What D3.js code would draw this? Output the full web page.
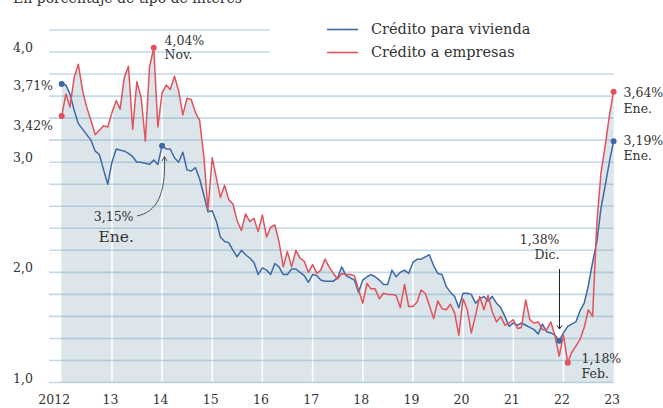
<!DOCTYPE html>
<html>
<head>
<meta charset="utf-8">
<script src="https://cdn.jsdelivr.net/npm/d3@7"></script>
<style>
  body { margin: 0; background: #fff; }
  svg { display: block; font-family: "DejaVu Serif", serif; }
</style>
</head>
<body>
<div id="chart"></div>
<script>
// Tipos de interés medios, enero 2012 - enero 2023 (mensual)
const yearLabels = ["2012", "13", "14", "15", "16", "17", "18", "19", "20", "21", "22", "23"];
const gridValues = [1.0, 1.2, 1.4, 1.6, 1.8, 2.0, 2.2, 2.4, 2.6, 2.8, 3.0, 3.2, 3.4, 3.6, 3.8, 4.0, 4.2];
const axisValues = [1, 2, 3, 4];

const vivienda = [
  3.71, 3.70, 3.62, 3.47, 3.35, 3.30, 3.25, 3.20, 3.10, 3.07, 2.93, 2.80,
  3.00, 3.12, 3.11, 3.10, 3.08, 3.05, 3.00, 3.00, 2.99, 2.98, 3.02, 2.98,
  3.15, 3.12, 3.12, 3.04, 3.00, 3.09, 2.93, 2.92, 2.95, 2.85, 2.70, 2.55,
  2.56, 2.46, 2.32, 2.28, 2.27, 2.20, 2.14, 2.20, 2.16, 2.13, 2.09, 1.98,
  2.04, 2.02, 1.98, 2.08, 2.05, 1.98, 1.98, 2.03, 2.03, 2.00, 1.97, 1.91,
  1.98, 1.97, 1.93, 1.92, 1.92, 1.92, 1.95, 2.05, 1.97, 1.95, 1.93, 1.82,
  1.93, 1.96, 1.98, 1.96, 1.93, 1.89, 1.89, 2.02, 1.96, 2.00, 2.02, 1.99,
  2.09, 2.12, 2.12, 2.14, 2.16, 2.06, 1.99, 1.98, 1.87, 1.82, 1.78, 1.68,
  1.81, 1.81, 1.80, 1.72, 1.76, 1.78, 1.74, 1.78, 1.72, 1.68, 1.60, 1.51,
  1.54, 1.52, 1.54, 1.52, 1.50, 1.48, 1.44, 1.53, 1.46, 1.45, 1.43, 1.38,
  1.45, 1.51, 1.53, 1.55, 1.65, 1.72, 1.88, 2.09, 2.28, 2.58, 2.79, 3.00,
  3.19
];

const empresas = [
  3.42, 3.62, 3.50, 3.77, 3.89, 3.65, 3.50, 3.38, 3.25, 3.29, 3.33, 3.32,
  3.45, 3.56, 3.48, 3.77, 3.87, 3.30, 3.73, 3.59, 3.19, 3.86, 4.04, 3.32,
  3.63, 3.70, 3.66, 3.78, 3.65, 3.43, 3.58, 3.57, 3.45, 3.38, 3.05, 2.57,
  3.04, 2.85, 2.68, 2.79, 2.66, 2.62, 2.47, 2.38, 2.53, 2.46, 2.49, 2.37,
  2.52, 2.32, 2.41, 2.43, 2.28, 2.05, 2.19, 2.05, 2.20, 2.13, 2.10, 2.00,
  2.07, 1.99, 2.02, 2.12, 2.05, 1.99, 1.94, 1.99, 1.98, 1.98, 1.97, 1.84,
  1.72, 1.90, 1.85, 1.85, 1.76, 1.81, 1.80, 1.80, 1.79, 1.68, 1.89, 1.69,
  1.69, 1.73, 1.84, 1.81, 1.70, 1.58, 1.74, 1.67, 1.66, 1.71, 1.63, 1.43,
  1.76, 1.66, 1.45, 1.61, 1.78, 1.66, 1.79, 1.64, 1.55, 1.60, 1.52, 1.54,
  1.57, 1.49, 1.50, 1.75, 1.57, 1.54, 1.55, 1.48, 1.48, 1.55, 1.42, 1.24,
  1.43, 1.18, 1.27, 1.33, 1.39, 1.50, 1.66, 1.60, 2.45, 2.90, 3.15, 3.42,
  3.64
];

// Puntos destacados: [serie, índice de mes]
const highlights = [
  ["vivienda", 0], ["empresas", 0], ["empresas", 22], ["vivienda", 24],
  ["vivienda", 119], ["empresas", 121], ["vivienda", 132], ["empresas", 132]
];

const width = 663, height = 408;
const blue = "#3f69a6", red = "#e2525c", ink = "#333";

const start = new Date(2012, 0, 1);
const monthDate = i => d3.timeMonth.offset(start, i);

const x = d3.scaleTime()
  .domain([start, new Date(2023, 0, 1)])
  .range([61.7, 613.6]);
const y = d3.scaleLinear()
  .domain([1, 4.2])
  .range([382.5, 30]);

const svg = d3.select("#chart").append("svg")
  .attr("width", width)
  .attr("height", height);

// Subtitle (cut at the top in the original)
svg.append("text")
  .attr("x", 13).attr("y", 2.5)
  .attr("font-size", 14).attr("fill", ink)
  .text("En porcentaje de tipo de interés");

// Shaded areas under both series
const area = d3.area()
  .x((d, i) => x(monthDate(i)))
  .y0(y(1))
  .y1(d => y(d));

[vivienda, empresas].forEach(s => {
  svg.append("path")
    .datum(s)
    .attr("d", area)
    .attr("fill", "#dbe5ea");
});

// White vertical year lines over the area
svg.append("g")
  .selectAll("line")
  .data(yearLabels.slice(1, -1))
  .enter().append("line")
  .attr("x1", (d, i) => x(new Date(2013 + i, 0, 1)))
  .attr("x2", (d, i) => x(new Date(2013 + i, 0, 1)))
  .attr("y1", y(1))
  .attr("y2", y(4.2))
  .attr("stroke", "#fff")
  .attr("stroke-width", 1.6);

// Horizontal gridlines
svg.append("g")
  .selectAll("line")
  .data(gridValues)
  .enter().append("line")
  .attr("x1", 49)
  .attr("x2", d => d >= 3.99 ? 270 : 613.6)
  .attr("y1", d => y(d))
  .attr("y2", d => y(d))
  .attr("stroke", "rgba(115,165,192,0.42)")
  .attr("stroke-width", 1.6);

// Y axis labels
svg.append("g")
  .selectAll("text")
  .data(axisValues)
  .enter().append("text")
  .attr("x", 13)
  .attr("y", d => y(d))
  .attr("font-size", 12.5)
  .attr("fill", ink)
  .text(d => d.toFixed(1).replace(".", ","));

// X axis
const xAxis = d3.axisBottom(x)
  .tickValues(yearLabels.map((d, i) => new Date(2012 + i, 0, 1)))
  .tickFormat((d, i) => yearLabels[i])
  .tickSize(0)
  .tickPadding(0);

const gx = svg.append("g")
  .attr("transform", "translate(-2,404)")
  .call(xAxis);
gx.select(".domain").remove();
gx.selectAll("text")
  .attr("dy", 0)
  .attr("font-family", "DejaVu Serif, serif")
  .attr("font-size", 12.5)
  .attr("fill", ink);
gx.selectAll(".tick").filter((d, i) => i === 0)
  .select("text").attr("dx", -6);

// Lines
const line = d3.line()
  .x((d, i) => x(monthDate(i)))
  .y(d => y(d));

svg.append("path").datum(vivienda)
  .attr("d", line).attr("fill", "none")
  .attr("stroke", blue).attr("stroke-width", 1.5)
  .attr("stroke-linejoin", "round");
svg.append("path").datum(empresas)
  .attr("d", line).attr("fill", "none")
  .attr("stroke", red).attr("stroke-width", 1.5)
  .attr("stroke-linejoin", "round");

// Highlight dots
const series = { vivienda, empresas };
svg.append("g")
  .selectAll("circle")
  .data(highlights)
  .enter().append("circle")
  .attr("cx", d => x(monthDate(d[1])))
  .attr("cy", d => y(series[d[0]][d[1]]))
  .attr("r", 3)
  .attr("fill", d => d[0] === "vivienda" ? blue : red);

// Legend
const legend = [["Crédito para vivienda", blue, 29.5, 34], ["Crédito a empresas", red, 52.5, 57]];
legend.forEach(([label, color, ly, ty]) => {
  svg.append("line")
    .attr("x1", 327).attr("x2", 358)
    .attr("y1", ly).attr("y2", ly)
    .attr("stroke", color).attr("stroke-width", 1.6);
  svg.append("text")
    .attr("x", 371).attr("y", ty)
    .attr("font-size", 14.5).attr("fill", ink)
    .text(label);
});

// Annotation labels
const notes = [
  { t: "3,71%", x: 53, y: 90, a: "end", s: 12.5 },
  { t: "3,42%", x: 53, y: 129.5, a: "end", s: 12.5 },
  { t: "4,04%", x: 164.5, y: 44.5, a: "start", s: 12.5 },
  { t: "Nov.", x: 164.5, y: 59, a: "start", s: 12.5 },
  { t: "3,15%", x: 133.5, y: 221, a: "end", s: 12.5 },
  { t: "Ene.", x: 98.5, y: 241.5, a: "start", s: 15.5 },
  { t: "1,38%", x: 559.5, y: 244, a: "end", s: 12.5 },
  { t: "Dic.", x: 559.5, y: 259, a: "end", s: 12.5 },
  { t: "1,18%", x: 581.5, y: 363, a: "start", s: 12.5 },
  { t: "Feb.", x: 581.5, y: 378, a: "start", s: 12.5 },
  { t: "3,64%", x: 623.5, y: 96.5, a: "start", s: 12.5 },
  { t: "Ene.", x: 623.5, y: 112.5, a: "start", s: 12.5 },
  { t: "3,19%", x: 623.5, y: 144.5, a: "start", s: 12.5 },
  { t: "Ene.", x: 623.5, y: 160, a: "start", s: 12.5 }
];
svg.append("g")
  .selectAll("text")
  .data(notes)
  .enter().append("text")
  .attr("x", d => d.x).attr("y", d => d.y)
  .attr("text-anchor", d => d.a)
  .attr("font-size", d => d.s)
  .attr("fill", ink)
  .text(d => d.t);

// Arrows
svg.append("path")
  .attr("d", "M137,216 C156,212 166,196 164.5,157")
  .attr("fill", "none").attr("stroke", "#555").attr("stroke-width", 1);
svg.append("path")
  .attr("d", "M162,161 L164.5,156.5 L167,161")
  .attr("fill", "none").attr("stroke", "#555").attr("stroke-width", 1);

svg.append("line")
  .attr("x1", 559.5).attr("x2", 559.5)
  .attr("y1", 269).attr("y2", 329)
  .attr("stroke", "#222").attr("stroke-width", 1);
svg.append("path")
  .attr("d", "M557,325.5 L559.5,329 L562,325.5")
  .attr("fill", "none").attr("stroke", "#222").attr("stroke-width", 1);
</script>
</body>
</html>
